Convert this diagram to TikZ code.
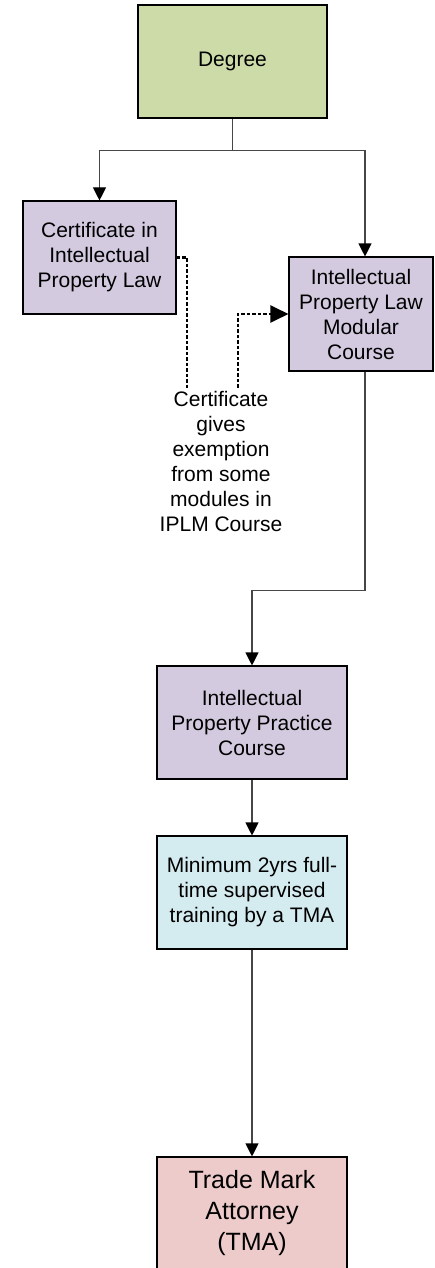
\documentclass[tikz,border=0pt]{standalone}
\usepackage{fontspec}
\setmainfont{Liberation Sans}
\usetikzlibrary{arrows.meta,shapes}
\definecolor{degreegreen}{RGB}{204,219,168}
\definecolor{coursepurple}{RGB}{211,202,224}
\definecolor{trainingblue}{RGB}{212,235,240}
\definecolor{attorneypink}{RGB}{238,203,203}
\definecolor{linegray}{RGB}{70,70,70}
\tikzstyle{stage}=[draw=black,line width=1.1pt,inner sep=2pt,align=center,minimum height=113pt,font=\fontsize{21}{25}\selectfont]
\tikzstyle{degree stage}=[stage,fill=degreegreen,minimum width=189pt]
\tikzstyle{course stage}=[stage,fill=coursepurple]
\tikzstyle{training stage}=[stage,fill=trainingblue,minimum width=190pt]
\tikzstyle{attorney stage}=[stage,fill=attorneypink,minimum width=190pt,font=\fontsize{25}{31}\selectfont]
\tikzstyle{note}=[align=center,inner sep=3pt,font=\fontsize{21}{25}\selectfont]
\tikzstyle{edge}=[draw,line width=1.1pt,linegray,-{Triangle[length=13pt,width=13pt,black]}]
\tikzstyle{exemption edge}=[draw,line width=2.2pt,black,dash pattern=on 3.5pt off 2pt]

\begin{document}
\begin{tikzpicture}[x=1pt,y=1pt]
    \useasboundingbox (0,0) rectangle (434,-1268);

    \node[degree stage] (degree) at (232.5,-61.5) {Degree};
    \node[course stage,minimum width=153pt] (cert) at (99.5,-257.5)
        {Certificate in\\Intellectual\\Property Law};
    \node[course stage,minimum width=144pt,minimum height=114pt] (iplm) at (361,-314)
        {Intellectual\\Property Law\\Modular\\Course};
    \node[note] (exemption) at (221,-461)
        {Certificate\\gives\\exemption\\from some\\modules in\\IPLM Course};
    \node[course stage,minimum width=190pt] (ippc) at (252,-722.5)
        {Intellectual\\Property Practice\\Course};
    \node[training stage] (training) at (252,-892.5)
        {Minimum 2yrs full-\\time supervised\\training by a TMA};
    \node[attorney stage] (tma) at (252,-1213.5)
        {Trade Mark\\Attorney\\(TMA)};

    % degree splits into the two routes
    \path[edge] (degree.south) -- ++(0,-32) -| (cert.north);
    \path[edge] (degree.south) -- ++(0,-32) -| ([xshift=4pt]iplm.north);

    % exemption link
    \path[exemption edge] (cert.east) -| ([xshift=-34pt]exemption.north);
    \path[exemption edge,-{Triangle[length=18pt,width=17pt]}]
        ([xshift=17pt]exemption.north) |- (iplm.west);

    \path[edge] ([xshift=4pt]iplm.south) -- ++(0,-219) -| (ippc.north);
    \foreach \source/\dest in {ippc/training, training/tma}
        \path[edge] (\source) -- (\dest);

\end{tikzpicture}
\end{document}
